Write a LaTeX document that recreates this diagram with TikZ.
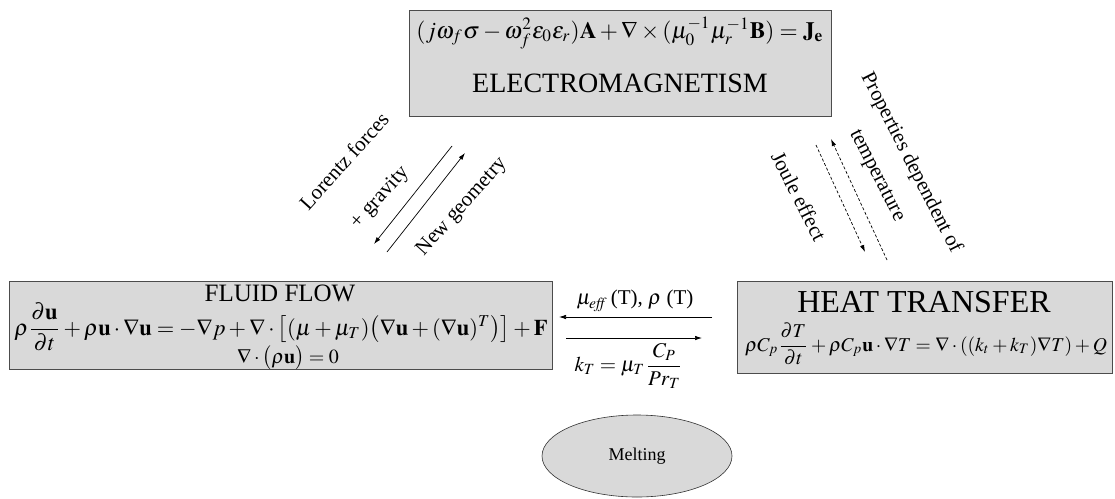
\documentclass[tikz,border=0pt]{standalone}
\usepackage{amsmath}
\usepackage{mathptmx}
\usepackage[no-math]{fontspec}
\setmainfont{Liberation Serif}
\usetikzlibrary{arrows.meta,shapes.geometric}
\begin{document}
\begin{tikzpicture}[x=1pt,y=-1pt,
 box/.style={draw=black!70,line width=1pt,fill=black!15,inner sep=0pt},
 txt/.style={inner sep=0pt},
 lbl/.style={font=\fontsize{21}{25}\selectfont,inner sep=0pt},
 arr/.style={-{Latex[length=7pt,width=4.5pt]},line width=0.7pt},
 darr/.style={arr,dash pattern=on 3pt off 2pt}]
\useasboundingbox (0,0) rectangle (1115,498);
% boxes
\node[box,minimum width=422pt,minimum height=106pt] (em) at (620,63) {};
\node[box,minimum width=543pt,minimum height=88pt] (ff) at (280.5,325) {};
\node[box,minimum width=375pt,minimum height=92pt] (ht) at (924.5,327) {};
\node[ellipse,draw=black!80,line width=0.6pt,fill=black!15,minimum width=190pt,minimum height=82pt,
  font=\fontsize{18}{22}\selectfont] (melt) at (637,456) {Melting};
% texts in boxes
\node[txt] (emeq) at (620,33) {\resizebox{407pt}{!}{$(j\omega_f\sigma-\omega_f^2\epsilon_0\epsilon_r)\mathbf{A}+\nabla\times(\mu_0^{-1}\mu_r^{-1}\mathbf{B})=\mathbf{J}_{\mathbf{e}}$}};
\node[txt,font=\fontsize{28}{32}\selectfont] (emt) at (620,83) {ELECTROMAGNETISM};
\node[txt,font=\fontsize{25}{30}\selectfont] (fft) at (280,293) {FLUID FLOW};
\node[txt] (ffeq) at (281,327) {\resizebox{533pt}{!}{$\rho\dfrac{\partial\mathbf{u}}{\partial t}+\rho\mathbf{u}\cdot\nabla\mathbf{u}=-\nabla p+\nabla\cdot\bigl[(\mu+\mu_T)\bigl(\nabla\mathbf{u}+(\nabla\mathbf{u})^T\bigr)\bigr]+\mathbf{F}$}};
\node[txt,font=\fontsize{20}{24}\selectfont] (ffc) at (288,358) {$\nabla\cdot\bigl(\rho\mathbf{u}\bigr)=0$};
\node[txt,font=\fontsize{32}{36}\selectfont] (htt) at (924,302) {HEAT TRANSFER};
\node[txt] (hteq) at (926,344) {\resizebox{362pt}{!}{$\rho C_p\dfrac{\partial T}{\partial t}+\rho C_p\mathbf{u}\cdot\nabla T=\nabla\cdot((k_t+k_T)\nabla T)+Q$}};
% horizontal connectors
\coordinate (h1a) at (712,317); \coordinate (h1b) at (559,317);
\coordinate (h2a) at (566,338); \coordinate (h2b) at (702,338);
\draw[arr] (h1a) -- (h1b);
\draw[arr] (h2a) -- (h2b);
\node[lbl] (mueff) at (635,301) {$\mu_{\mathit{eff}}$\,(T), $\rho$ (T)};
\node[lbl] (kt) at (628,366) {$k_T=\mu_T\,\dfrac{C_P}{Pr_T}$};
% left diagonal connectors
\coordinate (l1a) at (452,146); \coordinate (l1b) at (374,244);
\coordinate (l2a) at (387,252); \coordinate (l2b) at (465,153);
\draw[arr] (l1a) -- (l1b);
\draw[arr] (l2a) -- (l2b);
\node[lbl,rotate=48] (lor) at (344,161) {Lorentz forces};
\node[lbl,rotate=48] (grav) at (380,198) {+ gravity};
\node[lbl,rotate=48] (newg) at (462,207) {New geometry};
% right dashed connectors
\coordinate (r1a) at (816,145); \coordinate (r1b) at (865,252);
\coordinate (r2a) at (887,260); \coordinate (r2b) at (831,139);
\draw[darr] (r1a) -- (r1b);
\draw[darr] (r2a) -- (r2b);
\node[lbl,rotate=-63] (joule) at (799,196) {Joule effect};
\node[lbl,rotate=-63] (temp) at (876,176) {temperature};
\node[lbl,rotate=-63] (prop) at (911,163) {Properties dependent of};
\end{tikzpicture}
\end{document}
